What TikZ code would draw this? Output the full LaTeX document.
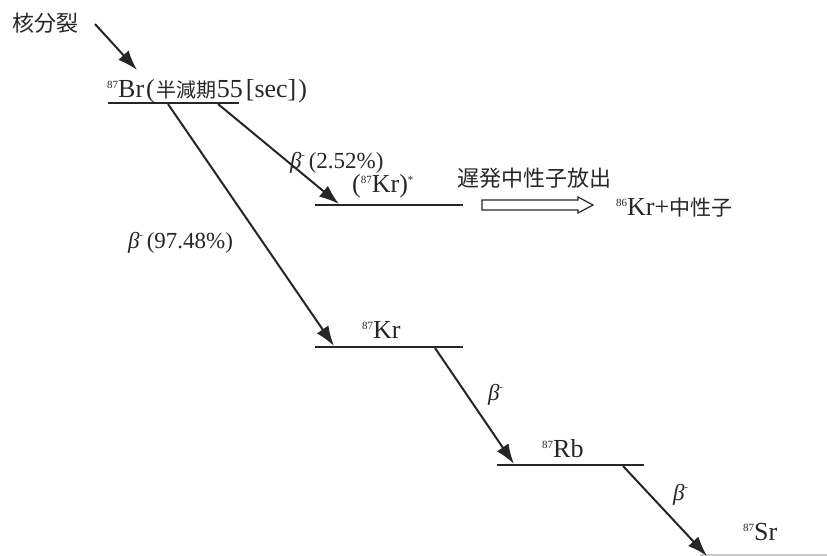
\documentclass[tikz,border=0pt]{standalone}
\usepackage{fontspec}
\setmainfont{Liberation Serif}
\newfontfamily\jp{Noto Sans CJK JP}
\usetikzlibrary{arrows.meta}
\definecolor{ink}{HTML}{262626}
\newcommand\sups[1]{\raisebox{9pt}{\fontsize{11pt}{11pt}\selectfont #1}}
\newcommand\bminus{{\itshape β}\raisebox{10pt}{\fontsize{10pt}{10pt}\selectfont -}\,}
\newcommand\jpt[2]{{\jp\fontsize{#1}{#1}\selectfont #2}}
\begin{document}
\begin{tikzpicture}[x=1pt,y=-1pt,
  lbl/.style={inner sep=0pt,anchor=base west,text=ink,font=\fontsize{26pt}{28pt}\selectfont},
  pct/.style={inner sep=0pt,anchor=base west,text=ink,font=\fontsize{23pt}{26pt}\selectfont},
  lev/.style={draw=ink,line width=2.6pt},
  arr/.style={draw=ink,line width=2pt,-{Latex[length=20pt,width=14pt]}},
  hollow/.style={draw=ink,line width=1.2pt,fill=white}]
\useasboundingbox (0,0) rectangle (827,555);

% labels
\node[lbl] (fis) at (12,31) {\jpt{22pt}{核分裂}};
\node[lbl] (brl) at (107,97) {\sups{87}Br\hspace{2pt}(\hspace{2pt}\jpt{20pt}{半減期}55\hspace{3pt}[sec]\hspace{2pt})};
\node[pct] (b1) at (290,168) {\bminus(2.52\%)};
\node[lbl] (krsl) at (352,192) {(\sups{87}Kr)\sups{*}};
\node[lbl] (dn) at (457,186) {\jpt{22pt}{遅発中性子放出}};
\node[lbl] (kr86) at (616,215) {\sups{86}Kr+\jpt{21pt}{中性子}};
\node[pct] (b2) at (128,248) {\bminus(97.48\%)};
\node[lbl] (krl) at (362,338) {\sups{87}Kr};
\node[pct] (b3) at (488,400) {\bminus};
\node[lbl] (rbl) at (542,457) {\sups{87}Rb};
\node[pct] (b4) at (673,500) {\bminus};
\node[lbl] (srl) at (743,540) {\sups{87}Sr};

% levels
\coordinate (brA) at (108,103); \coordinate (brB) at (239,103);
\coordinate (ksA) at (315,205); \coordinate (ksB) at (463,205);
\coordinate (krA) at (315,347); \coordinate (krB) at (463,347);
\coordinate (rbA) at (497,465); \coordinate (rbB) at (644,465);
\coordinate (srA) at (700,555); \coordinate (srB) at (827,555);
\draw[lev] (brA) -- (brB);
\draw[lev] (ksA) -- (ksB);
\draw[lev] (krA) -- (krB);
\draw[lev] (rbA) -- (rbB);
\draw[draw=ink!25,line width=2pt] (srA) -- (srB);

% decay arrows
\coordinate (f0) at (95,24); \coordinate (f1) at (137,70);
\coordinate (s1) at (218,104); \coordinate (t1) at (339,204);
\coordinate (s2) at (168,104); \coordinate (t2) at (334,346);
\coordinate (s3) at (435,348); \coordinate (t3) at (514,464);
\coordinate (s4) at (623,466); \coordinate (t4) at (707,556);
\draw[arr] (f0) -- (f1);
\draw[arr] (s1) -- (t1);
\draw[arr] (s2) -- (t2);
\draw[arr] (s3) -- (t3);
\draw[arr] (s4) -- (t4);

% hollow arrow
\draw[hollow] (482,200) -- (578,200) -- (578,197) -- (593,205) -- (578,213) -- (578,210) -- (482,210) -- cycle;
\end{tikzpicture}
\end{document}
